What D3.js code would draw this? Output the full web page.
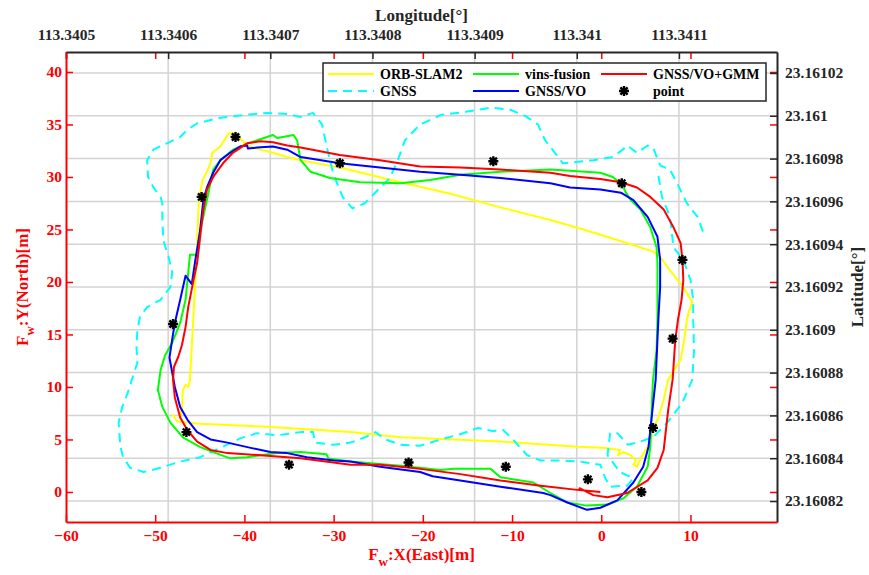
<!DOCTYPE html>
<html>
<head>
<meta charset="utf-8">
<script src="https://cdn.jsdelivr.net/npm/d3@7"></script>
<style>
body { margin: 0; background: #fff; }
text { font-family: "Liberation Serif", "Times New Roman", serif; font-weight: bold; }
</style>
</head>
<body>
<svg></svg>
<script>
//data (local frame, metres)
const orbSlam2 = [[-47.2,7.1],[-47.0,8.0],[-46.9,9.7],[-46.6,10.2],[-46.3,10.0],[-46.1,10.7],[-45.9,13.8],[-45.5,20.2],[-45.3,24.0],[-45.1,27.8],[-44.7,29.7],[-44.2,30.5],[-43.8,31.3],[-43.6,32.3],[-42.7,32.9],[-41.8,34.1],[-41.4,34.2],[-40.5,33.7],[-39.7,33.0],[-38.2,32.6],[-36.8,32.3],[-35.2,31.9],[-33.7,31.6],[-29.3,30.9],[-22.5,29.5],[-16.9,28.4],[-11.3,27.1],[-5.7,25.9],[-2.0,25.0],[1.8,24.0],[5.8,22.9],[6.6,22.4],[7.7,21.1],[9.2,19.5],[10.2,18.1],[9.8,17.1],[9.6,16.4],[9.3,14.5],[8.9,12.6],[7.5,10.7],[7.0,8.8],[6.4,7.1],[5.8,5.9],[5.5,4.7],[4.4,3.2],[4.0,2.4],[3.6,2.6],[3.9,3.0],[3.3,3.5],[2.5,3.8],[1.9,3.5],[2.1,4.0],[0.2,4.2],[-2.7,4.3],[-11.3,4.8],[-22.5,5.2],[-28.1,5.7],[-37.4,6.2],[-45.0,6.5],[-47.5,6.7],[-48.1,7.4]];

const vinsFusion = [[-5.7,-0.1],[-7.6,0.9],[-11.3,1.4],[-12.4,2.2],[-16.6,2.2],[-18.0,2.1],[-22.5,2.5],[-28.1,2.9],[-30.6,3.2],[-30.8,3.6],[-33.7,3.8],[-36.3,3.7],[-38.2,3.5],[-39.7,3.3],[-41.6,3.2],[-43.5,3.8],[-45.0,4.3],[-46.9,5.2],[-48.3,6.6],[-49.2,8.1],[-49.7,9.7],[-49.4,11.6],[-48.9,13.0],[-48.1,14.2],[-47.2,16.1],[-46.6,18.3],[-46.3,20.9],[-46.1,22.6],[-45.3,22.6],[-45.0,24.7],[-44.2,27.8],[-43.5,30.7],[-42.7,31.6],[-41.3,32.6],[-39.6,33.2],[-36.8,34.0],[-36.3,33.7],[-34.5,34.0],[-34.1,33.5],[-33.7,31.6],[-32.6,30.5],[-30.4,29.9],[-27.0,29.5],[-22.5,29.4],[-19.2,29.7],[-15.8,30.2],[-11.3,30.5],[-5.7,30.7],[-3.5,30.6],[-0.1,30.4],[1.3,30.0],[2.4,29.2],[2.7,28.6],[3.3,27.8],[4.4,26.9],[5.5,25.2],[6.2,23.3],[6.3,21.8],[6.3,19.5],[6.3,16.4],[6.2,13.5],[5.8,10.7],[5.7,9.0],[5.6,6.6],[5.5,4.3],[5.2,2.4],[4.0,0.5],[2.5,-0.6],[0.7,-1.2],[-1.6,-1.3],[-3.8,-1.0],[-5.7,-0.1]];

const gnssVoGmm = [[-0.1,0.0],[-2.7,0.2],[-6.8,0.6],[-11.3,1.1],[-15.8,1.7],[-20.3,2.2],[-24.8,2.6],[-28.1,2.6],[-33.7,3.2],[-38.2,3.5],[-41.9,3.7],[-43.8,4.0],[-45.3,4.8],[-46.4,5.9],[-47.2,7.1],[-47.8,9.0],[-48.0,10.7],[-47.9,11.9],[-47.4,12.9],[-47.0,14.0],[-46.6,15.7],[-46.3,17.6],[-45.7,20.2],[-45.3,21.8],[-45.0,24.0],[-44.6,26.9],[-44.2,28.8],[-43.5,30.0],[-42.4,31.3],[-41.3,32.3],[-39.7,33.2],[-38.2,33.4],[-36.8,33.3],[-35.2,33.0],[-33.7,32.8],[-29.3,32.1],[-24.8,31.6],[-20.3,31.0],[-15.8,30.9],[-11.3,30.7],[-5.7,30.4],[-3.5,30.1],[-0.1,29.8],[2.2,29.5],[4.0,29.0],[5.5,28.1],[7.0,26.9],[8.1,25.2],[8.9,23.7],[9.1,22.1],[9.2,20.2],[9.0,18.3],[8.6,16.4],[8.3,14.5],[8.0,10.7],[7.5,7.8],[7.0,4.0],[6.3,2.3],[5.2,1.1],[2.9,-0.1],[0.7,-0.5],[-0.9,-0.3],[-2.5,0.4]];

const gnss = [[11.4,24.8],[10.8,26.2],[9.6,27.5],[8.5,29.4],[7.7,30.7],[6.6,31.1],[5.8,32.8],[5.2,33.0],[4.0,32.3],[2.9,33.0],[2.4,32.6],[1.3,31.9],[-0.9,31.6],[-3.1,31.4],[-4.3,31.3],[-5.2,32.3],[-6.3,33.5],[-7.1,35.0],[-8.5,35.8],[-10.2,36.4],[-12.4,36.6],[-15.2,36.2],[-18.0,35.9],[-20.3,35.0],[-22.0,33.5],[-22.8,31.6],[-23.7,29.9],[-25.0,28.8],[-26.5,27.5],[-27.9,27.0],[-29.0,28.1],[-30.0,30.2],[-30.7,32.6],[-31.3,35.0],[-32.3,36.1],[-33.7,35.7],[-35.2,36.0],[-37.4,36.1],[-40.1,35.9],[-43.0,35.6],[-45.3,35.1],[-46.4,34.5],[-47.2,33.8],[-48.7,33.2],[-50.2,32.6],[-50.9,31.6],[-50.8,30.0],[-50.2,29.0],[-49.4,28.1],[-49.2,27.5],[-49.2,26.2],[-49.1,24.0],[-48.5,22.4],[-48.1,20.9],[-48.3,19.5],[-49.4,18.3],[-50.9,17.6],[-51.7,16.7],[-52.0,15.4],[-52.1,13.8],[-52.0,12.3],[-52.5,11.0],[-53.1,9.4],[-53.7,8.1],[-54.1,6.6],[-53.9,4.3],[-53.6,3.3],[-52.8,2.3],[-51.3,1.9],[-49.4,2.3],[-47.2,2.9],[-45.0,3.3],[-42.7,4.2],[-40.5,5.1],[-38.6,5.6],[-36.3,5.4],[-33.7,5.7],[-32.3,5.7],[-32.1,4.7],[-30.0,4.5],[-28.1,4.7],[-26.5,5.2],[-25.3,5.7],[-24.2,5.0],[-22.5,4.5],[-20.3,4.4],[-18.0,5.0],[-15.8,5.5],[-13.8,6.1],[-12.2,5.8],[-11.0,5.9],[-9.9,5.0],[-8.3,3.5],[-6.8,3.0],[-4.6,3.0],[-2.4,2.9],[-0.1,2.6],[0.4,1.4],[1.0,0.5],[2.9,0.6],[3.6,1.3],[2.1,1.9],[0.7,3.5],[1.0,5.6],[1.8,5.6],[3.0,4.5],[4.0,4.7],[5.8,5.2],[7.4,6.6],[9.1,8.5],[10.2,10.7],[10.4,13.5],[10.3,16.7],[10.3,18.3],[10.0,20.2],[9.2,22.1],[8.1,23.3],[7.7,26.2],[6.8,28.1],[6.3,30.7]];

const gnssVo = [[-6.5,-0.1],[-11.3,0.5],[-15.8,1.1],[-18.9,1.5],[-20.3,1.9],[-24.8,2.4],[-28.1,2.9],[-30.0,3.0],[-33.0,3.3],[-35.2,3.7],[-37.1,3.8],[-39.3,4.2],[-41.9,4.7],[-43.8,5.0],[-45.3,5.7],[-46.4,6.9],[-47.2,8.1],[-47.8,10.0],[-48.1,11.4],[-48.4,12.8],[-48.1,14.5],[-47.8,16.1],[-47.2,18.3],[-46.6,20.6],[-45.9,19.8],[-45.5,22.1],[-45.0,24.7],[-44.6,27.8],[-44.2,29.0],[-43.5,30.4],[-42.7,31.6],[-41.6,32.3],[-40.5,32.9],[-39.7,33.0],[-39.6,32.7],[-38.6,32.8],[-36.8,32.9],[-35.2,32.6],[-33.7,31.9],[-29.3,31.3],[-24.8,30.9],[-20.3,30.5],[-15.8,30.2],[-11.3,29.9],[-5.7,29.4],[-3.5,29.0],[-0.1,28.8],[2.2,28.5],[3.6,27.8],[5.2,26.2],[6.3,24.3],[6.6,22.1],[6.6,19.5],[6.4,16.4],[6.3,14.5],[6.1,10.7],[5.7,7.5],[5.3,4.3],[4.7,2.4],[3.6,0.9],[1.8,-0.8],[-0.1,-1.5],[-1.6,-1.7],[-3.8,-1.0],[-5.7,-0.3],[-6.5,-0.1]];

const points = [[-41.0,33.8],[-44.8,28.1],[-29.3,31.3],[-12.1,31.5],[2.3,29.4],[9.1,22.1],[-48.0,16.0],[8.0,14.6],[-46.5,5.7],[5.8,6.1],[-35.0,2.6],[-21.6,2.8],[-10.7,2.4],[-1.5,1.2],[4.5,0.0]];

const xTicks = [-60, -50, -40, -30, -20, -10, 0, 10];
const yTicks = [0, 5, 10, 15, 20, 25, 30, 35, 40];
const lonLabels = ["113.3405", "113.3406", "113.3407", "113.3408", "113.3409", "113.341", "113.3411"];
const latLabels = ["23.16082", "23.16084", "23.16086", "23.16088", "23.1609", "23.16092", "23.16094", "23.16096", "23.16098", "23.161", "23.16102"];
const legendNames = ["ORB-SLAM2", "vins-fusion", "GNSS/VO+GMM", "GNSS", "GNSS/VO", "point"];

//constants
const W = 869, H = 575;
const box = {left: 66, right: 777, top: 52, bottom: 522};

const svg = d3.select("svg").attr("width", W).attr("height", H);

//scales
const x = d3.scaleLinear().domain([-60, 19.7]).range([box.left, box.right]);
const y = d3.scaleLinear().domain([-2.86, 41.9]).range([box.bottom, box.top]);
const lon = d3.scaleLinear().domain([113.3405, 113.341196]).range([box.left, box.right]);
const lat = d3.scaleLinear().domain([23.1608102, 23.1610298]).range([box.bottom, box.top]);
const lonTicks = lonLabels.map(Number);
const latTicks = latLabels.map(Number);

//grid
svg.append("g")
    .selectAll("line")
    .data(lonTicks.slice(1))
    .enter()
    .append("line")
    .attr("x1", d => lon(d)).attr("x2", d => lon(d))
    .attr("y1", box.top).attr("y2", box.bottom)
    .attr("stroke", "#d3d3d3").attr("stroke-width", 1.5);

svg.append("g")
    .selectAll("line")
    .data(latTicks)
    .enter()
    .append("line")
    .attr("x1", box.left).attr("x2", box.right)
    .attr("y1", d => lat(d)).attr("y2", d => lat(d))
    .attr("stroke", "#d3d3d3").attr("stroke-width", 1.5);

//trajectories
const line = d3.line().x(d => x(d[0])).y(d => y(d[1]));

function track(data, color, dash) {
    svg.append("path")
        .datum(data)
        .attr("d", line)
        .attr("fill", "none")
        .attr("stroke", color)
        .attr("stroke-width", 2)
        .attr("stroke-linejoin", "round")
        .attr("stroke-dasharray", dash || null);
}
track(orbSlam2, "#ffff00");
track(gnss, "#00ffff", "9,6");
track(vinsFusion, "#00ff00");
track(gnssVo, "#0000ff");
track(gnssVoGmm, "#ff0000");

//points
const star = "M-5,0L5,0M0,-5L0,5M-3.6,-3.6L3.6,3.6M-3.6,3.6L3.6,-3.6";
svg.append("g")
    .selectAll("path")
    .data(points)
    .enter()
    .append("path")
    .attr("transform", d => "translate(" + x(d[0]) + "," + y(d[1]) + ")")
    .attr("d", star)
    .attr("stroke", "black")
    .attr("stroke-width", 2.4)
    .attr("fill", "none");

//axes
function styleAxis(g, color, size) {
    g.selectAll("text").attr("fill", color).style("font-size", size + "px");
    g.selectAll("line").attr("stroke", color).attr("stroke-width", 1.5);
    g.select(".domain").attr("stroke", color).attr("stroke-width", 2);
}

// mirror ticks of the metric axes (red) on top and right
svg.append("g")
    .attr("transform", "translate(0," + box.top + ")")
    .call(d3.axisTop(x).tickValues(xTicks).tickSizeInner(-7).tickSizeOuter(0).tickFormat(""))
    .call(g => { styleAxis(g, "#ff0000", 15.5); g.select(".domain").remove(); });

svg.append("g")
    .attr("transform", "translate(" + box.right + ",0)")
    .call(d3.axisRight(y).tickValues(yTicks).tickSizeInner(-7).tickSizeOuter(0).tickFormat(""))
    .call(g => { styleAxis(g, "#ff0000", 15.5); g.select(".domain").remove(); });

// longitude (top) and latitude (right)
svg.append("g")
    .attr("transform", "translate(0," + box.top + ")")
    .call(d3.axisTop(lon).tickValues(lonTicks).tickSizeInner(-7).tickSizeOuter(0)
        .tickPadding(12).tickFormat((d, i) => lonLabels[i]))
    .call(g => styleAxis(g, "#262626", 15.5));

svg.append("g")
    .attr("transform", "translate(" + box.right + ",0)")
    .call(d3.axisRight(lat).tickValues(latTicks).tickSizeInner(-7).tickSizeOuter(0)
        .tickPadding(8).tickFormat((d, i) => latLabels[i]))
    .call(g => styleAxis(g, "#262626", 15.5));

// metric axes (bottom, left)
svg.append("g")
    .attr("transform", "translate(0," + box.bottom + ")")
    .call(d3.axisBottom(x).tickValues(xTicks).tickSizeInner(-7).tickSizeOuter(0).tickPadding(8))
    .call(g => styleAxis(g, "#ff0000", 15.5));

svg.append("g")
    .attr("transform", "translate(" + box.left + ",0)")
    .call(d3.axisLeft(y).tickValues(yTicks).tickSizeInner(-7).tickSizeOuter(0).tickPadding(4))
    .call(g => styleAxis(g, "#ff0000", 15.5));

//axes labels
const midX = (box.left + box.right) / 2, midY = (box.top + box.bottom) / 2;

svg.append("text")
    .attr("x", midX).attr("y", 21)
    .attr("text-anchor", "middle")
    .style("font-size", "17px")
    .attr("fill", "#262626")
    .text("Longitude[°]");

svg.append("text")
    .attr("transform", "translate(863," + midY + ") rotate(-90)")
    .attr("text-anchor", "middle")
    .style("font-size", "17px")
    .attr("fill", "#262626")
    .text("Latitude[°]");

function fLabel(sel, rest) {
    sel.append("tspan").text("F");
    sel.append("tspan").attr("dy", 6).style("font-size", "13px").text("w");
    sel.append("tspan").attr("dy", -6).text(rest);
}

svg.append("text")
    .attr("x", midX).attr("y", 560)
    .attr("text-anchor", "middle")
    .style("font-size", "17px")
    .attr("fill", "#ff0000")
    .call(fLabel, ":X(East)[m]");

svg.append("text")
    .attr("transform", "translate(28," + midY + ") rotate(-90)")
    .attr("text-anchor", "middle")
    .style("font-size", "17px")
    .attr("fill", "#ff0000")
    .call(fLabel, ":Y(North)[m]");

//legend
const legendStyle = {
    "ORB-SLAM2": {color: "#ffff00"},
    "vins-fusion": {color: "#00ff00"},
    "GNSS/VO+GMM": {color: "#ff0000"},
    "GNSS": {color: "#00ffff", dash: "9,6"},
    "GNSS/VO": {color: "#0000ff"},
    "point": {marker: true}
};
const colX = [328, 473, 601], rowY = [74, 91];

svg.append("rect")
    .attr("x", 323).attr("y", 63)
    .attr("width", 443).attr("height", 38)
    .attr("fill", "white")
    .attr("stroke", "#262626")
    .attr("stroke-width", 1.5);

const items = svg.append("g")
    .selectAll("g")
    .data(legendNames)
    .enter()
    .append("g")
    .attr("transform", (d, i) => "translate(" + colX[i % 3] + "," + rowY[Math.floor(i / 3)] + ")");

items.filter(d => !legendStyle[d].marker)
    .append("line")
    .attr("x1", 0).attr("x2", 46)
    .attr("stroke", d => legendStyle[d].color)
    .attr("stroke-width", 2)
    .attr("stroke-dasharray", d => legendStyle[d].dash || null);

items.filter(d => legendStyle[d].marker)
    .append("path")
    .attr("transform", "translate(23,0)")
    .attr("d", star)
    .attr("stroke", "black")
    .attr("stroke-width", 2.4);

items.append("text")
    .attr("x", 52).attr("dy", "0.35em")
    .style("font-size", "14px")
    .attr("fill", "black")
    .text(d => d);
</script>
</body>
</html>
